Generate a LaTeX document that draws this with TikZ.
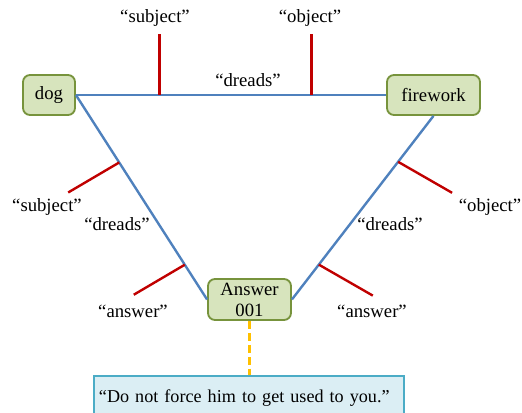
\documentclass[tikz,border=0pt]{standalone}
\usepackage{fontspec}
\setmainfont{Liberation Serif}
\usetikzlibrary{positioning}
\definecolor{leaf}{HTML}{D7E4BD}
\definecolor{leafedge}{HTML}{77933C}
\definecolor{relblue}{HTML}{4F81BD}
\definecolor{rolered}{HTML}{C00000}
\definecolor{linkgold}{HTML}{FFC000}
\definecolor{notefill}{HTML}{DBEEF4}
\definecolor{noteedge}{HTML}{4BACC6}

\begin{document}
\begin{tikzpicture}[
  x=0.025cm, y=-0.025cm,
  font=\fontsize{13.3}{15}\selectfont,
  entity/.style={rectangle, rounded corners=5pt, draw=leafedge, line width=1.3pt,
                 fill=leaf, align=center, inner sep=0pt, minimum height=1cm},
  note/.style={rectangle, draw=noteedge, line width=1pt, fill=notefill,
               font=\fontsize{12.9}{15}\selectfont, text width=7.5cm, align=left,
               inner xsep=0.125cm, minimum height=1.1cm},
  edge/.style={draw=relblue, line width=1.7pt},
  tick/.style={draw=rolered, line width=1.7pt},
  link/.style={draw=linkgold, line width=1.7pt, dash pattern=on 5.5pt off 3pt},
  lbl/.style={inner sep=0pt},
]
\useasboundingbox (0,0) rectangle (522,413);
\clip (0,0) rectangle (522,413);

\node[entity, minimum width=1.3cm] (dog) at (49,95) {dog};
\node[entity, minimum width=2.325cm] (fw) at (433.5,95) {firework};
\node[entity, minimum width=2.075cm, minimum height=1.025cm] (ans) at (249.5,299.5) {Answer\\001};
\node[note] (quote) at (249,398) {“Do not force him to get used to you.”};

% relation lines with the role attachment points
\draw[edge] (dog.east) -- (fw.west) coordinate[pos=0.269] (s1) coordinate[pos=0.76] (o1);
\draw[edge] (dog.east) -- (ans.west) coordinate[pos=0.33] (s2) coordinate[pos=0.83] (a2);
\draw[edge] (fw.south) -- (ans.east) coordinate[pos=0.25] (o3) coordinate[pos=0.81] (a3);

\draw[tick] (s1) -- ++(0,-61) coordinate (s1e);
\draw[tick] (o1) -- ++(0,-61) coordinate (o1e);
\draw[tick] (s2) -- ++(-51,30) coordinate (s2e);
\draw[tick] (a2) -- ++(-51,30) coordinate (a2e);
\draw[tick] (o3) -- ++(54,31) coordinate (o3e);
\draw[tick] (a3) -- ++(54,31) coordinate (a3e);

\draw[link] (ans.south) -- (ans.south |- quote.north);

\node[lbl] (sub1) at (155,18) {“subject”};
\node[lbl] (obj1) at (310,18) {“object”};
\node[lbl] (rel1) at (248,80) {“dreads”};
\node[lbl] (sub2) at (47,207) {“subject”};
\node[lbl] (rel2) at (117,224) {“dreads”};
\node[lbl] (ans2) at (133,311) {“answer”};
\node[lbl] (obj3) at (490,207) {“object”};
\node[lbl] (rel3) at (390,224) {“dreads”};
\node[lbl] (ans3) at (372,311) {“answer”};
\end{tikzpicture}
\end{document}
